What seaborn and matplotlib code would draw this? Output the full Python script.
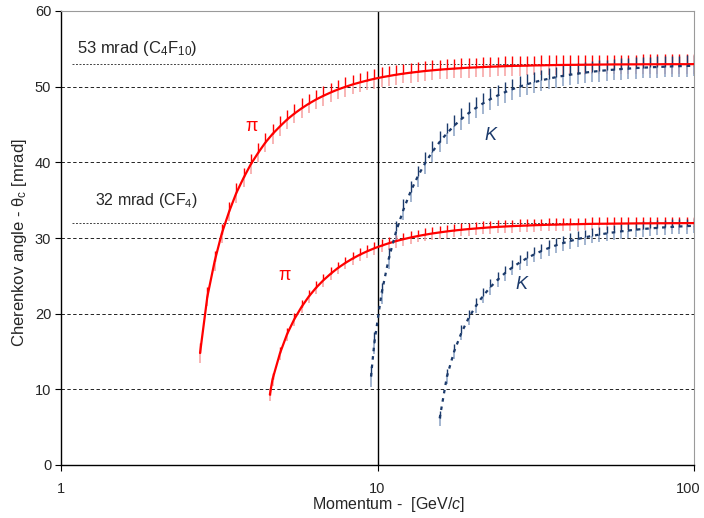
import numpy as np
import pandas as pd
import seaborn as sns
import matplotlib
matplotlib.use("Agg")
import matplotlib.pyplot as plt
import matplotlib.transforms as mtransforms

# ---------------- data ----------------
p_grid = [2.75, 2.90, 3.06, 3.22, 3.40, 3.58, 3.78, 3.98, 4.20, 4.42,
          4.66, 4.92, 5.18, 5.46, 5.76, 6.07, 6.40, 6.75, 7.12, 7.50,
          7.91, 8.34, 8.79, 9.27, 9.77, 10.30, 10.86, 11.45, 12.07, 12.72,
          13.41, 14.14, 14.91, 15.72, 16.57, 17.47, 18.42, 19.41, 20.47, 21.58,
          22.75, 23.98, 25.28, 26.65, 28.10, 29.62, 31.23, 32.92, 34.71, 36.59,
          38.58, 40.67, 42.88, 45.20, 47.65, 50.24, 52.96, 55.84, 58.87, 62.06,
          65.43, 68.97, 72.72, 76.66, 80.82, 85.20, 89.82, 94.69, 100.0]

theta_pi_c4f10 = [14.8, 22.25, 26.98, 30.58, 33.52, 35.95, 38.00, 39.76, 41.28, 42.60,
                  43.75, 44.76, 45.66, 46.44, 47.14, 47.76, 48.31, 48.80, 49.24, 49.63,
                  49.97, 50.29, 50.56, 50.81, 51.04, 51.24, 51.41, 51.58, 51.72, 51.85,
                  51.96, 52.07, 52.16, 52.25, 52.32, 52.39, 52.45, 52.51, 52.55, 52.60,
                  52.64, 52.67, 52.71, 52.74, 52.76, 52.78, 52.81, 52.82, 52.84, 52.86,
                  52.87, 52.88, 52.89, 52.90, 52.91, 52.92, 52.93, 52.94, 52.94, 52.95,
                  52.95, 52.96, 52.96, 52.96, 52.97, 52.97, 52.97, 52.97, 52.98]

theta_pi_cf4 = [11.34, 14.78, 17.30, 19.28, 20.92, 22.28, 23.44, 24.43, 25.29, 26.04,
                26.70, 27.28, 27.79, 28.24, 28.64, 28.99, 29.31, 29.59, 29.84, 30.06,
                30.26, 30.44, 30.60, 30.74, 30.87, 30.99, 31.09, 31.18, 31.26, 31.34,
                31.41, 31.47, 31.52, 31.57, 31.61, 31.65, 31.69, 31.72, 31.75, 31.77,
                31.79, 31.81, 31.83, 31.85, 31.87, 31.88, 31.89, 31.90, 31.91, 31.92,
                31.93, 31.94, 31.94, 31.95, 31.95, 31.96, 31.96, 31.97, 31.97]
start_pi_cf4 = (4.57, 9.3)

theta_k_c4f10 = [16.13, 22.71, 27.31, 30.87, 33.73, 36.13,
                 38.16, 39.90, 41.40, 42.70, 43.84, 44.84, 45.73, 46.51, 47.20, 47.81,
                 48.36, 48.84, 49.27, 49.66, 50.00, 50.31, 50.59, 50.83, 51.05, 51.25,
                 51.43, 51.59, 51.73, 51.86, 51.97, 52.08, 52.17, 52.25, 52.33, 52.39,
                 52.46, 52.51, 52.56, 52.60, 52.64, 52.68, 52.71, 52.74, 52.76]
start_k_c4f10 = (9.54, 11.7)

theta_k_cf4 = [6.17, 11.70, 15.03, 17.49, 19.44, 21.04, 22.38,
               23.52, 24.50, 25.36, 26.10, 26.75, 27.32, 27.82, 28.27, 28.67, 29.02,
               29.33, 29.61, 29.86, 30.08, 30.28, 30.45, 30.61, 30.75, 30.88, 30.99,
               31.10, 31.19, 31.27, 31.34, 31.41, 31.47, 31.52, 31.57, 31.62]

# half-length of the error bars [mrad]
err_pi_c4f10 = 1.3
err_pi_cf4 = 0.85
err_k_c4f10 = 1.4
err_k_cf4 = 1.0

radiator_lines = [53, 32]
radiator_labels = ["53 mrad (C$_\\mathregular{4}$F$_\\mathregular{10}$)",
                   "32 mrad (CF$_\\mathregular{4}$)"]
y_ticks = [0, 10, 20, 30, 40, 50, 60]
x_ticks = [1, 10, 100]
x_tick_labels = ["1", "10", "100"]

# ---------------- build table ----------------
def series(theta, particle, radiator, err, start=None):
    p = list(p_grid[-len(theta):])
    t = list(theta)
    if start is not None:
        p = [start[0]] + p
        t = [start[1]] + t
    return pd.DataFrame({"p": p, "theta": t, "particle": particle,
                         "radiator": radiator, "err": err})

df = pd.concat([
    series(theta_pi_c4f10, "pi", "C4F10", err_pi_c4f10),
    series(theta_pi_cf4, "pi", "CF4", err_pi_cf4, start_pi_cf4),
    series(theta_k_c4f10, "K", "C4F10", err_k_c4f10, start_k_c4f10),
    series(theta_k_cf4, "K", "CF4", err_k_cf4),
], ignore_index=True)

# ---------------- style ----------------
sns.set_theme(style="white")
plt.rcParams["font.family"] = ["Liberation Sans", "DejaVu Sans"]
plt.rcParams["mathtext.fontset"] = "custom"
plt.rcParams["mathtext.rm"] = "Liberation Sans"
plt.rcParams["mathtext.it"] = "Liberation Sans:italic"

RED = "#ff0000"
RED_LIGHT = "#f7a0a0"
NAVY = "#1b3a6b"
NAVY_LIGHT = "#8aa2c4"

fig = plt.figure(figsize=(7.04, 5.18), dpi=100)
ax = fig.add_axes([61 / 704, 53 / 518, 633 / 704, 454 / 518])
ax.set_xscale("log")

# grid lines
for y in y_ticks[1:-1]:
    ax.axhline(y, color="#222222", lw=0.7, ls=(0, (3.5, 2.5)), zorder=1)
for y in radiator_lines:
    ax.axhline(y, xmin=11 / 633, xmax=1, color="#444444", lw=0.7,
               ls=(0, (2, 1.6)), zorder=1)
ax.axvline(10, color="black", lw=1.0, zorder=2)

# error bars: lower half light, upper half strong
for part, light, strong in [("pi", RED_LIGHT, RED), ("K", NAVY_LIGHT, NAVY)]:
    d = df[df.particle == part]
    ax.vlines(d.p, d.theta - d.err, d.theta, color=light, lw=1.1, zorder=3)
    ax.vlines(d.p, d.theta, d.theta + d.err, color=strong, lw=1.0, zorder=3)

sns.lineplot(data=df, x="p", y="theta", hue="particle", style="particle",
             units="radiator", estimator=None, sort=False,
             palette={"pi": RED, "K": NAVY},
             dashes={"pi": "", "K": (1.6, 2.2)},
             linewidth=1.6, legend=False, ax=ax, zorder=4)

ax.set_xlim(1, 100)
ax.set_ylim(0, 60)
ax.set_xticks(x_ticks)
ax.set_xticklabels(x_tick_labels)
ax.xaxis.set_minor_locator(matplotlib.ticker.NullLocator())
ax.set_yticks(y_ticks)
ax.tick_params(axis="both", which="major", direction="out", length=4,
               width=0.8, color="black", labelsize=10.5, pad=3,
               left=True, bottom=True)
ax.tick_params(axis="x", pad=8)
ax.set_xlabel("")
ax.set_ylabel("")
# keep the "100" label inside the figure
last = ax.get_xticklabels()[-1]
last.set_transform(last.get_transform() +
                   mtransforms.ScaledTranslation(-6 / 100, 0, fig.dpi_scale_trans))

for s in ["left", "bottom"]:
    ax.spines[s].set_color("black")
    ax.spines[s].set_linewidth(1.0)
for s in ["top", "right"]:
    ax.spines[s].set_color("#9a9a9a")
    ax.spines[s].set_linewidth(0.8)

# annotations
ax.text(1.124, 55.1, radiator_labels[0], fontsize=12, va="center", ha="left")
ax.text(1.28, 34.9, radiator_labels[1], fontsize=11.5, va="center", ha="left")
ax.text(4.01, 44.7, "π", color=RED, fontsize=13, ha="center", va="center")
ax.text(5.10, 25.1, "π", color=RED, fontsize=13, ha="center", va="center")
ax.text(22.8, 43.6, "K", color=NAVY, fontsize=13, style="italic",
        ha="center", va="center")
ax.text(28.4, 23.8, "K", color=NAVY, fontsize=13, style="italic",
        ha="center", va="center")

fig.text(20 / 704, 1 - 243 / 518, "Cherenkov angle - θ$_\\mathregular{c}$ [mrad]",
         rotation=90, ha="center", va="center", fontsize=12)
fig.text(388 / 704, 1 - 504 / 518, "Momentum -  [GeV/$c$]",
         ha="center", va="center", fontsize=11.5)

fig.savefig("out.png", dpi=100)
